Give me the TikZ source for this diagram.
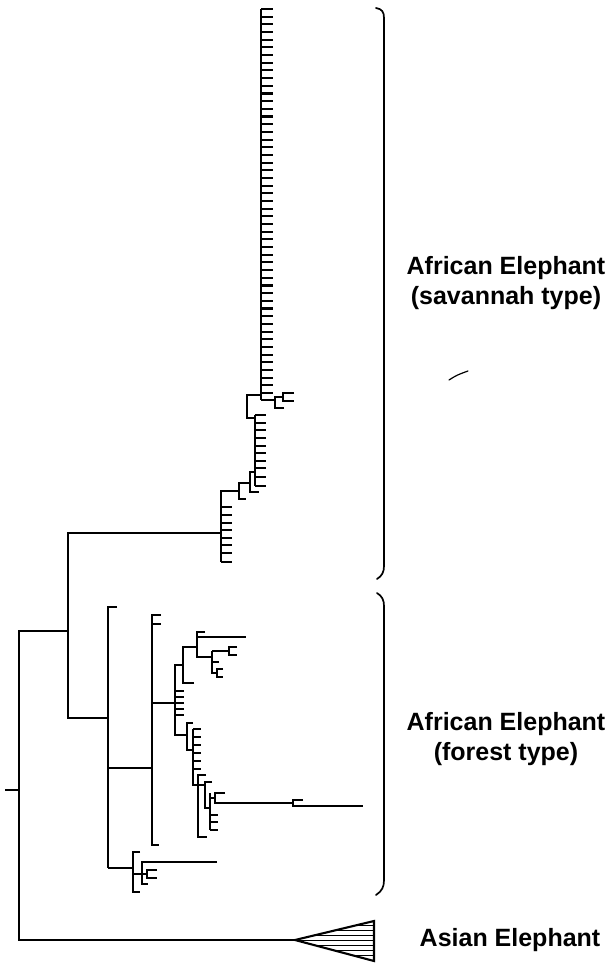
\documentclass[tikz,border=0pt]{standalone}
\usepackage{fontspec}
\setmainfont{Liberation Sans}
\begin{document}
\begin{tikzpicture}[x=1pt,y=-1pt]
\tikzset{
  br/.style={line width=2.1pt, line join=miter},
  lbl/.style={font=\bfseries\fontsize{25}{30.5}\selectfont, align=center, inner sep=0pt},
  brace/.style={line width=1.7pt, line cap=round}
}
\useasboundingbox (0,0) rectangle (611,965);
\begin{scope}[br]
% root
\draw (5,790) -- (19,790);
\draw (68,631) -- (19,631) -- (19,940) -- (295,940);
% savannah / forest split
\draw (221,533) -- (68,533) -- (68,718) -- (108,718);
% ---- savannah clade ----
\draw (261,9) -- (261,400);
\foreach \i in {0,...,50} \draw (261,{9+\i*7.68}) -- (273,{9+\i*7.68});
\draw (261,400) -- (275,400);
\draw (284,408) -- (275,408) -- (275,397) -- (283,397);
\draw (294,393) -- (283,393) -- (283,401) -- (294,401);
\draw (261,395) -- (247,395) -- (247,418) -- (255,418);
\draw (255,415) -- (255,486);
\foreach \y in {415,423,430,438,446,453,461,468,477,486} \draw (255,\y) -- (266,\y);
\draw (255,472) -- (250,472) -- (250,492) -- (259,492);
\draw (250,483) -- (239,483) -- (239,499) -- (246,499);
\draw (239,491) -- (221,491) -- (221,562);
\foreach \y in {507,515,523,530,538,545,553,562} \draw (221,\y) -- (232,\y);
% ---- forest clade ----
\draw (117,607) -- (108,607) -- (108,868);
\draw (108,768) -- (152,768);
\draw (161,615) -- (152,615) -- (152,845) -- (159,845);
\draw (152,624) -- (161,624);
\draw (152,703) -- (175,703);
\draw (182,665) -- (175,665) -- (175,735) -- (187,735);
\foreach \y in {691,697,703,709,715} \draw (175,\y) -- (184,\y);
\draw (175,665) -- (183,665);
\draw (194,683) -- (183,683) -- (183,647) -- (197,647);
\draw (205,632) -- (197,632) -- (197,657) -- (212,657);
\draw (197,637) -- (246,637);
\draw (212,651) -- (212,673) -- (217,673);
\draw (212,651) -- (229,651);
\draw (237,647) -- (229,647) -- (229,655) -- (237,655);
\draw (212,662) -- (219,662);
\draw (223,669) -- (217,669) -- (217,677) -- (223,677);
\draw (193,723) -- (187,723) -- (187,750) -- (193,750);
\draw (193,729) -- (193,785) -- (198,785);
\foreach \y in {729,737,745,753,761,769} \draw (193,\y) -- (201,\y);
\draw (206,775) -- (198,775) -- (198,837) -- (207,837);
\draw (198,785) -- (205,785);
\draw (212,782) -- (205,782) -- (205,808) -- (210,808);
\draw (210,793) -- (210,830);
\foreach \y in {815,822,830} \draw (210,\y) -- (218,\y);
\draw (210,798) -- (215,798);
\draw (225,793) -- (215,793) -- (215,803) -- (293,803);
\draw (303,800) -- (293,800) -- (293,806) -- (363,806);
\draw (140,852) -- (133,852) -- (133,892) -- (140,892);
\draw (108,868) -- (133,868);
\draw (133,874) -- (147,874);
\draw (217,862) -- (142,862) -- (142,884) -- (148,884);
\draw (157,870) -- (147,870) -- (147,878) -- (157,878);
\end{scope}
% Asian collapsed clade
\draw[br] (295,940) -- (374,921) -- (374,961) -- cycle;
\begin{scope}
\clip (295,940) -- (374,921) -- (374,961) -- cycle;
\foreach \y in {925,930,...,955} \draw[line width=1pt] (290,\y) -- (374,\y);
\end{scope}
% braces
\draw[brace] (376,8) .. controls (382,9) and (384,12) .. (384,18) -- (384,566) .. controls (384,572) and (382,576) .. (377,579);
\draw[brace] (377,593) .. controls (382,596) and (384,600) .. (384,606) -- (384,880) .. controls (384,887) and (382,891) .. (376,895);
% stray mark
\draw[line width=1.2pt, line cap=round] (449,380) .. controls (457,375) .. (468,371);
% labels
\node[lbl] (sav) at (506,283) {African Elephant\\(savannah type)};
\node[lbl] (for) at (506,739) {African Elephant\\(forest type)};
\node[lbl] (asi) at (510,940) {Asian Elephant};
\end{tikzpicture}
\end{document}
